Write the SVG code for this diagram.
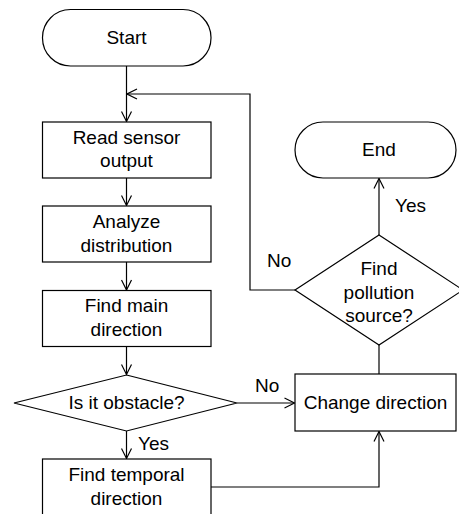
<svg xmlns="http://www.w3.org/2000/svg" width="459" height="514" viewBox="0 0 459 514">
<style>
.s{fill:#fff;stroke:#000;stroke-width:1.2}
.c{fill:none;stroke:#000;stroke-width:1.2}
text{font-family:"Liberation Sans",Arial,sans-serif;font-size:19px;fill:#000}
.m{text-anchor:middle}
</style>
<defs>
<marker id="a" viewBox="0 0 12 12" refX="11" refY="6" markerWidth="12" markerHeight="12" markerUnits="userSpaceOnUse" orient="auto">
<path d="M1,1 L11,6 L1,11" fill="none" stroke="#000" stroke-width="1.2"/>
</marker>
</defs>
<rect width="459" height="514" fill="#fff"/>
<g id="connectors">
<path class="c" d="M126.5,66 V121.5" marker-end="url(#a)"/>
<path class="c" d="M295,290 H250 V94 H127" marker-end="url(#a)"/>
<path class="c" d="M126.5,178 V205.5" marker-end="url(#a)"/>
<path class="c" d="M126.5,262 V290" marker-end="url(#a)"/>
<path class="c" d="M126.5,347 V374.5" marker-end="url(#a)"/>
<path class="c" d="M126.5,431 V458.5" marker-end="url(#a)"/>
<path class="c" d="M237,403 H294.5" marker-end="url(#a)"/>
<path class="c" d="M211,487 H379 V431.5" marker-end="url(#a)"/>
<path class="c" d="M379,374 V345"/>
<path class="c" d="M379,235 V178.5" marker-end="url(#a)"/>
<text x="138" y="450">Yes</text>
<text x="255" y="392">No</text>
<text x="267" y="267">No</text>
<text x="395" y="212">Yes</text>
</g>
<g id="start">
<rect class="s" x="42.5" y="9.5" width="168.5" height="56.5" rx="28" ry="28"/>
<text class="m" x="126.5" y="43.5">Start</text>
</g>
<g id="read">
<rect class="s" x="42.5" y="122" width="168.5" height="56"/>
<text class="m" x="126.5" y="143.5">Read sensor</text>
<text class="m" x="126.5" y="167">output</text>
</g>
<g id="analyze">
<rect class="s" x="42.5" y="206" width="168.5" height="56"/>
<text class="m" x="126.5" y="228">Analyze</text>
<text class="m" x="126.5" y="252">distribution</text>
</g>
<g id="findmain">
<rect class="s" x="42.5" y="290.5" width="168.5" height="56"/>
<text class="m" x="126.5" y="312">Find main</text>
<text class="m" x="126.5" y="335.5">direction</text>
</g>
<g id="obstacle">
<polygon class="s" points="126.5,375 237,403 126.5,431 14,403"/>
<text class="m" x="126.5" y="409">Is it obstacle?</text>
</g>
<g id="temporal">
<rect class="s" x="42.5" y="459" width="168.5" height="70"/>
<text class="m" x="126.5" y="481">Find temporal</text>
<text class="m" x="126.5" y="504.5">direction</text>
</g>
<g id="change">
<rect class="s" x="295" y="374" width="161" height="57"/>
<text class="m" x="375.5" y="409">Change direction</text>
</g>
<g id="pollution">
<polygon class="s" points="379,235 463,290 379,345 295,290"/>
<text class="m" x="379" y="275">Find</text>
<text class="m" x="379" y="298.5">pollution</text>
<text class="m" x="379" y="322">source?</text>
</g>
<g id="end">
<rect class="s" x="295" y="122" width="161" height="56" rx="28" ry="28"/>
<text class="m" x="379" y="155.5">End</text>
</g>
</svg>
